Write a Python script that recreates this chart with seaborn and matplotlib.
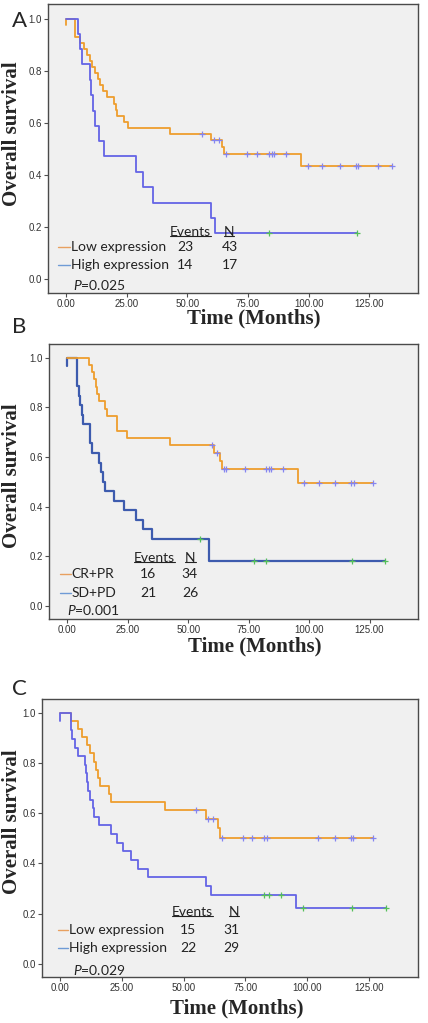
import numpy as np
import pandas as pd
import seaborn as sns
import matplotlib.pyplot as plt
from matplotlib.lines import Line2D

sns.set_style("white")
plt.rcParams['font.family'] = ['Liberation Sans', 'DejaVu Sans']
plt.rcParams['mathtext.fontset'] = 'custom'
plt.rcParams['mathtext.it'] = 'Lato:italic'
plt.rcParams['mathtext.rm'] = 'Lato'

# ---- values (months / survival after each drop) ----
# Panel A: Low vs High expression
a_low_t = [3.6, 5.7, 7.2, 8.5, 9.7, 10.8, 11.9, 13.0, 14.1, 15.3, 16.7, 19.9, 20.5, 20.8, 23.9, 25.7, 42.9, 59.7, 64.3, 65.0, 97.0]
a_low_s = [0.930, 0.907, 0.884, 0.860, 0.837, 0.814, 0.791, 0.767, 0.744, 0.721, 0.698, 0.674, 0.651, 0.628, 0.605, 0.581, 0.558, 0.534, 0.507, 0.480, 0.436]
a_low_c = [55.9, 60.8, 62.9, 65.8, 74.6, 78.8, 83.7, 84.7, 85.7, 90.8, 99.8, 105.7, 112.9, 119.5, 120.4, 128.7, 134.2]
a_high_t = [4.7, 5.6, 6.6, 9.8, 10.2, 11.0, 12.1, 13.5, 15.6, 28.8, 31.9, 35.7, 59.7, 61.5]
a_high_s = [0.941, 0.882, 0.824, 0.765, 0.706, 0.647, 0.588, 0.529, 0.471, 0.412, 0.353, 0.294, 0.235, 0.176]
a_high_c = [83.7, 119.9]

# Panel B: CR+PR vs SD+PD
b_cr_t = [9.2, 10.4, 11.2, 11.8, 12.2, 13.0, 15.8, 16.6, 20.4, 20.7, 24.9, 42.4, 60.6, 63.3, 63.9, 95.4]
b_cr_s = [0.971, 0.941, 0.912, 0.882, 0.853, 0.824, 0.794, 0.765, 0.735, 0.706, 0.676, 0.647, 0.616, 0.584, 0.551, 0.496]
b_cr_c = [59.8, 61.8, 65.0, 65.7, 73.6, 82.1, 83.3, 84.2, 89.2, 98.1, 104.0, 110.9, 117.5, 118.6, 126.6]
b_sd_t = [4.0, 4.8, 5.5, 6.3, 6.7, 9.5, 10.3, 13.2, 14.0, 14.9, 15.8, 19.5, 23.3, 28.4, 31.4, 35.2, 58.8]
b_sd_s = [0.885, 0.846, 0.808, 0.769, 0.731, 0.654, 0.615, 0.577, 0.538, 0.500, 0.462, 0.423, 0.385, 0.346, 0.308, 0.269, 0.179]
b_sd_c = [54.8, 77.4, 82.2, 117.7, 131.4]

# Panel C: Low vs High expression
c_low_t = [4.1, 7.1, 8.8, 10.7, 12.0, 13.8, 14.4, 15.4, 16.2, 19.5, 20.5, 42.2, 59.2, 63.9, 64.7]
c_low_s = [0.968, 0.935, 0.903, 0.871, 0.839, 0.806, 0.774, 0.742, 0.710, 0.677, 0.645, 0.613, 0.579, 0.540, 0.502]
c_low_c = [55.1, 59.9, 61.9, 65.5, 73.9, 77.7, 82.6, 83.6, 104.3, 111.1, 117.8, 118.7, 126.7]
c_high_t = [4.1, 4.8, 5.9, 7.0, 9.9, 10.4, 10.8, 11.2, 12.0, 13.0, 13.8, 15.6, 20.6, 23.1, 25.5, 28.7, 31.6, 35.4, 59.0, 61.0, 95.3]
c_high_s = [0.931, 0.897, 0.862, 0.828, 0.793, 0.759, 0.724, 0.690, 0.655, 0.621, 0.586, 0.552, 0.517, 0.483, 0.448, 0.414, 0.379, 0.345, 0.310, 0.276, 0.221]
c_high_c = [82.6, 84.6, 89.4, 98.4, 118.0, 131.8]

a_labels = ["Low expression", "High expression"]
b_labels = ["CR+PR", "SD+PD"]
c_labels = ["Low expression", "High expression"]
a_events, a_n = ["23", "14"], ["43", "17"]
b_events, b_n = ["16", "21"], ["34", "26"]
c_events, c_n = ["15", "22"], ["31", "29"]
a_p, b_p, c_p = "0.025", "0.001", "0.029"

x_ticks = [0, 25, 50, 75, 100, 125]
y_ticks = [0.0, 0.2, 0.4, 0.6, 0.8, 1.0]

ORANGE = "#EE9E2E"
BLUE_A = "#6464E6"
BLUE_B = "#3D5BAE"
CENS_ORANGE = "#8585F0"
CENS_BLUE = "#55C05A"
LEG_ORANGE = "#E8A060"
LEG_BLUE = "#6F9BD6"


def km_frame(times, surv, end, hook=None):
    x, y = [0.0], [1.0]
    if hook is not None:
        x, y = [0.0, 0.0], [hook, 1.0]
    x = x + list(times) + [end]
    y = y + list(surv) + [surv[-1]]
    return pd.DataFrame({"time": x, "surv": y})


def censor_frame(times, surv, cens):
    t = np.array([0.0] + list(times))
    s = np.array([1.0] + list(surv))
    idx = np.searchsorted(t, cens, side="right") - 1
    return pd.DataFrame({"time": cens, "surv": s[idx]})


panels = [
    dict(rect=[0.112, 0.7136, 0.864, 0.2825],
         curves=[(a_low_t, a_low_s, a_low_c, ORANGE, 1.3, 0.975, CENS_ORANGE),
                 (a_high_t, a_high_s, a_high_c, BLUE_A, 1.3, None, CENS_BLUE)],
         labels=a_labels, events=a_events, n=a_n, p=a_p,
         ylab=(-0.097, 0.55), xlab=(0.557, -0.087),
         lay=dict(line=(0.027, 0.059), txt=0.062, ev=0.33, evc=0.349, nn=0.476, nc=0.47,
                  hy=0.211, r1=0.159, r2=0.097, px=0.068, py=0.028)),
    dict(rect=[0.1145, 0.395, 0.862, 0.269],
         curves=[(b_sd_t, b_sd_s, b_sd_c, BLUE_B, 1.6, 0.965, CENS_BLUE),
                 (b_cr_t, b_cr_s, b_cr_c, ORANGE, 1.3, None, CENS_ORANGE)],
         labels=b_labels, events=b_events, n=b_n, p=b_p,
         ylab=(-0.1, 0.52), xlab=(0.557, -0.102),
         lay=dict(line=(0.03, 0.059), txt=0.06, ev=0.23, evc=0.247, nn=0.369, nc=0.36,
                  hy=0.222, r1=0.164, r2=0.095, px=0.049, py=0.033)),
    dict(rect=[0.098, 0.045, 0.879, 0.2717],
         curves=[(c_low_t, c_low_s, c_low_c, ORANGE, 1.3, None, CENS_ORANGE),
                 (c_high_t, c_high_s, c_high_c, BLUE_A, 1.3, 0.968, CENS_BLUE)],
         labels=c_labels, events=c_events, n=c_n, p=c_p,
         ylab=(-0.08, 0.557), xlab=(0.518, -0.112),
         lay=dict(line=(0.042, 0.069), txt=0.072, ev=0.346, evc=0.367, nn=0.497, nc=0.481,
                  hy=0.234, r1=0.169, r2=0.104, px=0.082, py=0.025)),
]

fig = plt.figure(figsize=(4.28, 10.23), dpi=100)
headers = []

for pan in panels:
    ax = fig.add_axes(pan["rect"])
    ax.set_facecolor("#F0F0F0")

    for times, surv, cens, col, lw, hook, ccol in pan["curves"]:
        df = km_frame(times, surv, max(cens), hook)
        sns.lineplot(data=df, x="time", y="surv", drawstyle="steps-post",
                     estimator=None, sort=False, color=col, linewidth=lw, ax=ax)
    for times, surv, cens, col, lw, hook, ccol in pan["curves"]:
        cf = censor_frame(times, surv, cens)
        sns.scatterplot(data=cf, x="time", y="surv", marker="+", s=22,
                        color=ccol, linewidth=0.9, zorder=5, ax=ax)

    ax.set_xlim(-7.5, 145)
    ax.set_ylim(-0.053, 1.056)
    ax.set_xticks(x_ticks)
    ax.set_xticklabels([f"{v:.2f}" for v in x_ticks])
    ax.set_yticks(y_ticks)
    ax.set_yticklabels([f"{v:.1f}" for v in y_ticks])
    ax.tick_params(bottom=True, left=True, direction="out", length=3, width=0.8,
                   color="#505050", labelsize=7, labelcolor="#333333", pad=1.5)
    for sp in ax.spines.values():
        sp.set_color("#4A4A4A")
        sp.set_linewidth(1.0)

    ax.set_xlabel("Time (Months)", fontfamily="Liberation Serif", fontweight="bold",
                  fontsize=15, va="center")
    ax.set_ylabel("Overall survival", fontfamily="Liberation Serif", fontweight="bold",
                  fontsize=15, va="center")
    ax.xaxis.set_label_coords(*pan["xlab"])
    ax.yaxis.set_label_coords(*pan["ylab"])

    L = pan["lay"]
    tkw = dict(transform=ax.transAxes, fontfamily="Lato", fontsize=10, color="#222222", va="center")
    headers.append(ax.text(L["ev"], L["hy"], "Events", **tkw))
    headers.append(ax.text(L["nn"], L["hy"], "N", **tkw))
    for lab, ev, nn, ry, lc in zip(pan["labels"], pan["events"], pan["n"],
                                   [L["r1"], L["r2"]], [LEG_ORANGE, LEG_BLUE]):
        ax.plot(L["line"], [ry, ry], transform=ax.transAxes, color=lc, lw=1.0)
        ax.text(L["txt"], ry, lab, **tkw)
        ax.text(L["evc"], ry, ev, **tkw)
        ax.text(L["nc"], ry, nn, **tkw)
    ax.text(L["px"], L["py"], "$P$=" + pan["p"], **tkw)

fig.text(19 / 428, 1 - 21 / 1023, "A", fontfamily="Lato", fontsize=16, ha="center", va="center")
fig.text(19 / 428, 1 - 327 / 1023, "B", fontfamily="Lato", fontsize=16, ha="center", va="center")
fig.text(19 / 428, 1 - 689 / 1023, "C", fontfamily="Lato", fontsize=16, ha="center", va="center")

# underline the Events / N headers
fig.canvas.draw()
inv = fig.transFigure.inverted()
for t in headers:
    bb = t.get_window_extent()
    (x0, y0), (x1, _) = inv.transform([(bb.x0, bb.y0 + 2.0), (bb.x1, bb.y0)])
    fig.add_artist(Line2D([x0, x1], [y0, y0], color="#222222", lw=0.8))

fig.savefig("out.png", dpi=100)
